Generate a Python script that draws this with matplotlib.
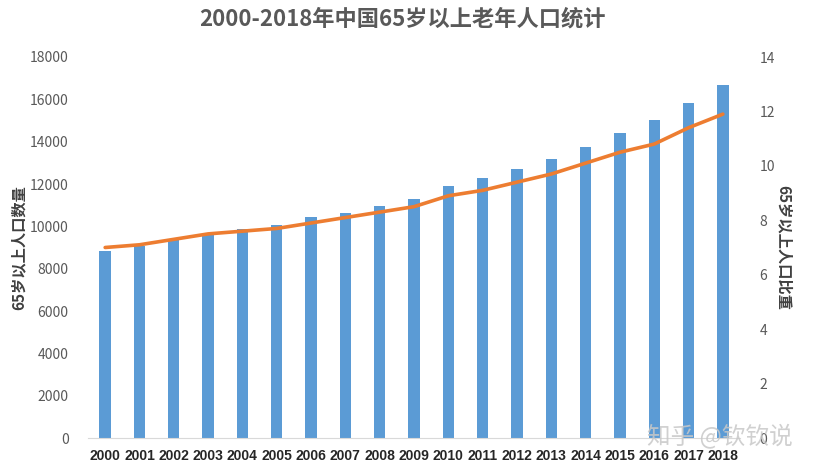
import matplotlib
matplotlib.use("Agg")
import matplotlib.pyplot as plt
import numpy as np

plt.rcParams['font.family'] = ['Noto Sans CJK SC', 'DejaVu Sans']

years = ['2000', '2001', '2002', '2003', '2004', '2005', '2006', '2007', '2008', '2009',
         '2010', '2011', '2012', '2013', '2014', '2015', '2016', '2017', '2018']
population = [8821, 9062, 9377, 9692, 9857, 10055, 10419, 10636, 10956, 11307,
              11894, 12288, 12714, 13161, 13755, 14386, 15003, 15831, 16658]
ratio = [7.0, 7.1, 7.3, 7.5, 7.6, 7.7, 7.9, 8.1, 8.3, 8.5,
         8.9, 9.1, 9.4, 9.7, 10.1, 10.5, 10.8, 11.4, 11.9]

left_ticks = list(range(0, 18001, 2000))
right_ticks = list(range(0, 15, 2))

fig = plt.figure(figsize=(8.13, 4.73), dpi=100)
ax = fig.add_axes([88/813, 1-438/473, (740-88)/813, (438-57)/473])
x = np.arange(len(years))
ax.bar(x, population, width=0.33, color='#5B9BD5', zorder=2)
ax.set_xlim(-0.5, len(years)-0.5)
ax.set_ylim(0, 18000)
ax.set_yticks(left_ticks)
ax.set_yticklabels([str(t) for t in left_ticks])
ax.set_xticks(x)
ax.set_xticklabels(years, fontweight='bold', fontsize=10, color='#262626',
                   family=['Liberation Sans', 'DejaVu Sans'])
ax.tick_params(axis='y', length=0, labelsize=10, labelcolor='#595959', pad=14)
ax.tick_params(axis='x', length=0, pad=8)
for s in ['top', 'right', 'left']:
    ax.spines[s].set_visible(False)
ax.spines['bottom'].set_color('#D9D9D9')
ax.set_ylabel('65岁以上人口数量', fontsize=11, fontweight='bold', color='#404040', labelpad=2)

ax2 = ax.twinx()
ax2.plot(x, ratio, color='#ED7D31', linewidth=2.6, solid_capstyle='round', zorder=3)
ax2.set_ylim(0, 14)
ax2.set_yticks(right_ticks)
ax2.set_yticklabels([str(t) for t in right_ticks])
ax2.tick_params(axis='y', length=0, labelsize=10, labelcolor='#595959', pad=14)
for s in ['top', 'right', 'left', 'bottom']:
    ax2.spines[s].set_visible(False)
ax2.set_ylabel('65岁以上人口比重', fontsize=11, fontweight='bold', color='#404040',
               rotation=270, labelpad=12)

fig.suptitle('2000-2018年中国65岁以上老年人口统计', x=0.495, y=0.985, fontsize=16,
             fontweight='bold', color='#595959')

fig.text(0.975, 1-437/473, '知乎 @钦钦说', fontsize=17, color='#C8C8C8', alpha=0.85,
         ha='right', va='center', zorder=5)

fig.savefig('out.png', dpi=100)
